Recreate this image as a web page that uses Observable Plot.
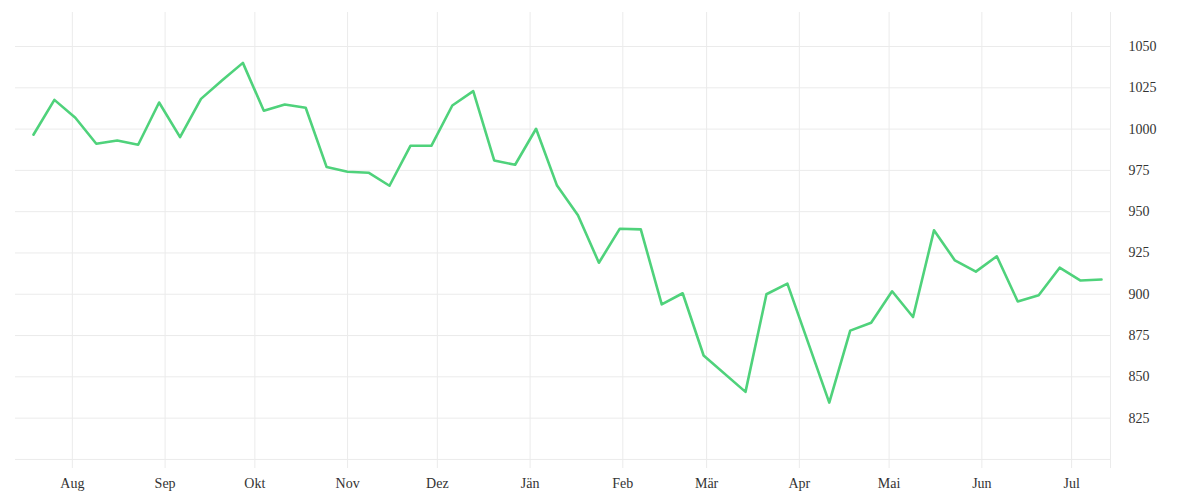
<!DOCTYPE html>
<html>
<head>
<meta charset="utf-8">
<script src="https://cdn.jsdelivr.net/npm/d3@7"></script>
<script src="https://cdn.jsdelivr.net/npm/@observablehq/plot@0.6"></script>
<style>
  html, body { margin: 0; padding: 0; background: #fff; }
  #chart { width: 1200px; height: 500px; }
</style>
</head>
<body>
<div id="chart"></div>
<script>
// Weekly observations starting 2022-07-19 (two weeks without data in March/April)
const dates = [
  "2022-07-19","2022-07-26","2022-08-02","2022-08-09","2022-08-16","2022-08-23","2022-08-30",
  "2022-09-06","2022-09-13","2022-09-20","2022-09-27","2022-10-04","2022-10-11","2022-10-18",
  "2022-10-25","2022-11-01","2022-11-08","2022-11-15","2022-11-22","2022-11-29","2022-12-06",
  "2022-12-13","2022-12-20","2022-12-27","2023-01-03","2023-01-10","2023-01-17","2023-01-24",
  "2023-01-31","2023-02-07","2023-02-14","2023-02-21","2023-02-28","2023-03-14",
  "2023-03-21","2023-03-28","2023-04-11","2023-04-18","2023-04-25","2023-05-02",
  "2023-05-09","2023-05-16","2023-05-23","2023-05-30","2023-06-06","2023-06-13","2023-06-20",
  "2023-06-27","2023-07-04","2023-07-11"
];
const values = [
  996.6, 1017.7, 1006.9, 991.1, 993.1, 990.5, 1016.1,
  995.1, 1018.3, 1029.4, 1040.1, 1011.1, 1014.9, 1012.9,
  977.0, 974.2, 973.6, 965.7, 989.9, 989.9, 1014.3,
  1023.0, 981.0, 978.4, 1000.2, 965.8, 947.8, 919.1,
  939.7, 939.3, 893.9, 900.6, 862.9, 840.9,
  900.0, 906.4, 834.4, 878.0, 882.8, 901.8,
  886.2, 938.7, 920.5, 913.7, 923.0, 895.6, 899.4,
  916.1, 908.3, 908.9
];
const monthTicks = ["2022-08-01","2022-09-01","2022-10-01","2022-11-01","2022-12-01","2023-01-01",
  "2023-02-01","2023-03-01","2023-04-01","2023-05-01","2023-06-01","2023-07-01"];
const monthLabels = ["Aug","Sep","Okt","Nov","Dez","Jän","Feb","Mär","Apr","Mai","Jun","Jul"];
const gridValues = [800, 825, 850, 875, 900, 925, 950, 975, 1000, 1025, 1050];
const yTickValues = [825, 850, 875, 900, 925, 950, 975, 1000, 1025, 1050];
const xDomain = ["2022-07-13", "2023-07-14"];
const yDomain = [794.5, 1070.6];

const parse = d3.utcParse("%Y-%m-%d");
const data = dates.map((d, i) => ({date: parse(d), value: values[i]}));
const ticks = monthTicks.map(parse);
const labelOf = new Map(ticks.map((t, i) => [+t, monthLabels[i]]));
const xEnd = parse(xDomain[1]);

const chart = Plot.plot({
  width: 1200,
  height: 500,
  marginLeft: 15,
  marginRight: 90,
  marginTop: 12,
  marginBottom: 32,
  style: {fontFamily: "'Liberation Serif', serif", fontSize: "14px", color: "#333", background: "#fff"},
  x: {type: "utc", domain: xDomain.map(parse)},
  y: {domain: yDomain},
  marks: [
    Plot.ruleY(gridValues, {stroke: "#ebebeb", strokeWidth: 1, strokeOpacity: 1}),
    Plot.ruleX(ticks, {stroke: "#ebebeb", strokeWidth: 1, strokeOpacity: 1}),
    Plot.ruleX([xEnd], {stroke: "#ebebeb", strokeWidth: 1, strokeOpacity: 1}),
    Plot.axisX({ticks: ticks, tickFormat: d => labelOf.get(+d), tickSize: 0, tickPadding: 10, label: null, fill: "#333"}),
    Plot.axisY({anchor: "right", ticks: yTickValues, tickFormat: d3.format("d"), tickSize: 0, tickPadding: 18, label: null, fill: "#333"}),
    Plot.line(data, {x: "date", y: "value", stroke: "#4fd27b", strokeWidth: 2.6, curve: "linear"})
  ]
});
document.getElementById("chart").appendChild(chart);
</script>
</body>
</html>
